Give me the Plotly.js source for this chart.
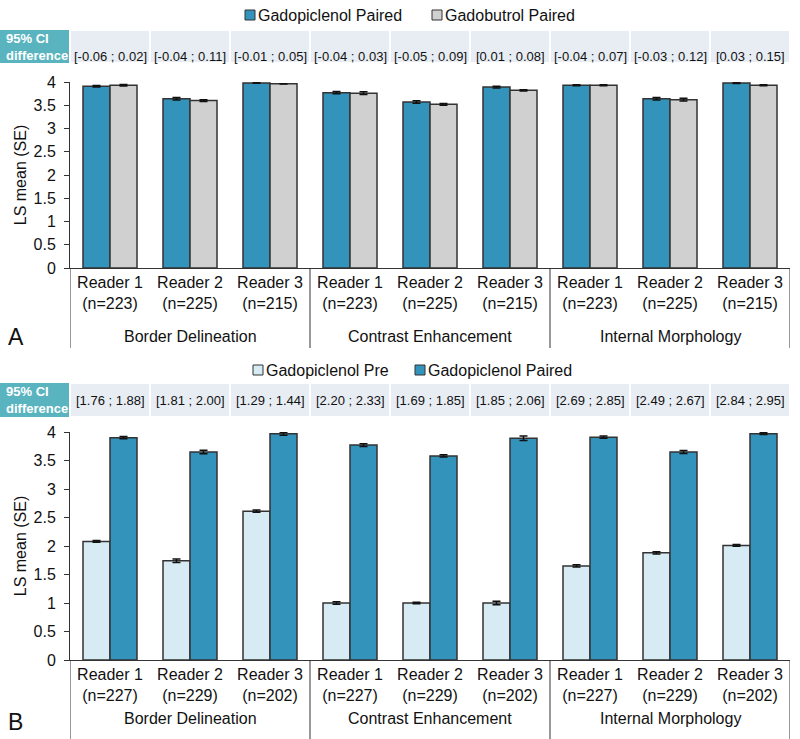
<!DOCTYPE html>
<html>
<head>
<meta charset="utf-8">
<script src="https://cdn.plot.ly/plotly-3.0.1.min.js"></script>
<style>
  html, body { margin: 0; padding: 0; background: #fff; }
  #chart-area { width: 800px; height: 739px; }
</style>
</head>
<body>
<div id="chart-area"></div>
<script>
'use strict';

// categories
const groups = ["Border Delineation", "Contrast Enhancement", "Internal Morphology"];
const readers = ["Reader 1", "Reader 2", "Reader 3"];
const n_top = ["n=223", "n=225", "n=215", "n=223", "n=225", "n=215", "n=223", "n=225", "n=215"];
const n_bottom = ["n=227", "n=229", "n=202", "n=227", "n=229", "n=202", "n=227", "n=229", "n=202"];

// panel A: gadopiclenol paired vs gadobutrol paired
const top_names = ["Gadopiclenol Paired", "Gadobutrol Paired"];
const top_gadopiclenol = [3.91, 3.64, 3.98, 3.77, 3.57, 3.89, 3.93, 3.64, 3.98];
const top_gadopiclenol_se = [0.015, 0.025, 0.008, 0.025, 0.025, 0.02, 0.01, 0.025, 0.01];
const top_gadobutrol = [3.93, 3.60, 3.96, 3.76, 3.52, 3.82, 3.93, 3.62, 3.93];
const top_gadobutrol_se = [0.015, 0.02, 0.005, 0.03, 0.02, 0.015, 0.01, 0.03, 0.01];
const top_ci = ["[-0.06 ; 0.02]", "[-0.04 ; 0.11]", "[-0.01 ; 0.05]", "[-0.04 ; 0.03]", "[-0.05 ; 0.09]",
                "[0.01 ; 0.08]", "[-0.04 ; 0.07]", "[-0.03 ; 0.12]", "[0.03 ; 0.15]"];

// panel B: gadopiclenol pre vs paired
const bottom_names = ["Gadopiclenol Pre", "Gadopiclenol Paired"];
const bottom_pre = [2.08, 1.74, 2.61, 1.00, 1.00, 1.00, 1.65, 1.88, 2.01];
const bottom_pre_se = [0.015, 0.03, 0.02, 0.02, 0.015, 0.03, 0.02, 0.02, 0.015];
const bottom_paired = [3.90, 3.65, 3.97, 3.77, 3.58, 3.89, 3.91, 3.65, 3.97];
const bottom_paired_se = [0.02, 0.03, 0.025, 0.025, 0.02, 0.04, 0.02, 0.025, 0.015];
const bottom_ci = ["[1.76 ; 1.88]", "[1.81 ; 2.00]", "[1.29 ; 1.44]", "[2.20 ; 2.33]", "[1.69 ; 1.85]",
                   "[1.85 ; 2.06]", "[2.69 ; 2.85]", "[2.49 ; 2.67]", "[2.84 ; 2.95]"];

const BLUE = "#3393ba";
const GREY = "#d0d0d0";
const LIGHT = "#d6ebf3";
const EDGE = "#333333";
const FONT = "Liberation Sans, Arial, sans-serif";
const W = 800, H = 739;

const px_y = y => 1 - y / H;
const px_x = x => x / W;

function bar_trace(name, values, se, color, xaxis, yaxis) {
    return {
        type: "bar",
        name: name,
        x: values.map((_, i) => i),
        y: values,
        xaxis: xaxis,
        yaxis: yaxis,
        marker: { color: color, line: { color: EDGE, width: 1.5 } },
        error_y: { type: "data", array: se, visible: true, color: "#111", thickness: 1.5, width: 4 },
        showlegend: false,
        hoverinfo: "y",
    };
}

function tick_text(n_list) {
    return n_list.map((n, i) => readers[i % 3] + "<br>(" + n + ")");
}

function x_axis(anchor, n_list, domain) {
    return {
        domain: domain,
        anchor: anchor,
        range: [-0.5, 8.5],
        tickvals: n_list.map((_, i) => i),
        ticktext: tick_text(n_list),
        ticks: "",
        showline: true,
        linecolor: EDGE,
        linewidth: 1,
        showgrid: false,
        zeroline: false,
        fixedrange: true,
        tickfont: { size: 16, color: "#111" },
    };
}

function y_axis(anchor, domain) {
    return {
        domain: domain,
        anchor: anchor,
        range: [0, 4],
        dtick: 0.5,
        ticks: "outside",
        ticklen: 5,
        tickcolor: EDGE,
        ticklabelstandoff: 5,
        showline: true,
        linecolor: EDGE,
        linewidth: 1,
        showgrid: false,
        zeroline: false,
        fixedrange: true,
        tickfont: { size: 16, color: "#111" },
        title: { text: "LS mean (SE)", font: { size: 16, color: "#111" }, standoff: 2 },
    };
}

// panel decorations: CI row, separators, group labels, legend
function panel_decor(shapes, annotations, opt) {
    const xref = opt.xref;
    // teal header box
    shapes.push({
        type: "rect", xref: "paper", yref: "paper",
        x0: 0, x1: px_x(69), y0: px_y(opt.ci_top), y1: px_y(opt.ci_bottom),
        fillcolor: "#59b4c0", line: { width: 0 },
    });
    annotations.push({
        xref: "paper", yref: "paper", x: px_x(4), y: px_y((opt.ci_top + opt.ci_bottom) / 2),
        xanchor: "left", yanchor: "middle", align: "left", showarrow: false,
        text: "<b>95% CI<br>difference</b>",
        font: { size: 13, color: "#fff", family: FONT },
    });
    opt.ci.forEach((t, i) => {
        shapes.push({
            type: "rect", xref: xref, yref: "paper",
            x0: i - 0.5, x1: i + 0.5, y0: px_y(opt.ci_top), y1: px_y(opt.ci_bottom),
            fillcolor: "#e8edf4", line: { color: "#fff", width: 2 },
        });
        annotations.push({
            xref: xref, yref: "paper", x: i, y: px_y((opt.ci_top + opt.ci_bottom) / 2),
            showarrow: false, text: t,
            font: { size: 13, color: "#111", family: FONT },
        });
    });
    // separators below the axis
    [-0.5, 2.5, 5.5, 8.5].forEach(x => {
        shapes.push({
            type: "line", xref: xref, yref: "paper",
            x0: x, x1: x, y0: px_y(opt.axis_y), y1: px_y(opt.sep_end),
            line: { color: EDGE, width: 1 },
        });
    });
    groups.forEach((g, k) => {
        annotations.push({
            xref: xref, yref: "paper", x: 3 * k + 1, y: px_y(opt.group_y),
            showarrow: false, text: g,
            font: { size: 16, color: "#111", family: FONT },
        });
    });
    // legend
    opt.legend.forEach(item => {
        shapes.push({
            type: "rect", xref: "paper", yref: "paper",
            x0: px_x(item.sx), x1: px_x(item.sx + 10),
            y0: px_y(opt.legend_y - 5), y1: px_y(opt.legend_y + 5),
            fillcolor: item.color, line: { color: EDGE, width: 1 },
        });
        annotations.push({
            xref: "paper", yref: "paper", x: px_x(item.sx + 11), y: px_y(opt.legend_y),
            xanchor: "left", yanchor: "middle", showarrow: false, text: item.name,
            font: { size: 16, color: "#111", family: FONT },
        });
    });
    annotations.push({
        xref: "paper", yref: "paper", x: px_x(6), y: px_y(opt.letter_y),
        xanchor: "left", yanchor: "middle", showarrow: false, text: opt.letter,
        font: { size: 23, color: "#111", family: FONT },
    });
}

function render() {
    const data = [
        bar_trace(top_names[0], top_gadopiclenol, top_gadopiclenol_se, BLUE, "x", "y"),
        bar_trace(top_names[1], top_gadobutrol, top_gadobutrol_se, GREY, "x", "y"),
        bar_trace(bottom_names[0], bottom_pre, bottom_pre_se, LIGHT, "x2", "y2"),
        bar_trace(bottom_names[1], bottom_paired, bottom_paired_se, BLUE, "x2", "y2"),
    ];

    let shapes = [];
    let annotations = [];
    panel_decor(shapes, annotations, {
        xref: "x", ci: top_ci, ci_top: 30, ci_bottom: 63,
        axis_y: 268, sep_end: 348, group_y: 337,
        legend_y: 15, letter: "A", letter_y: 337,
        legend: [
            { name: top_names[0], color: BLUE, sx: 245 },
            { name: top_names[1], color: GREY, sx: 432 },
        ],
    });
    panel_decor(shapes, annotations, {
        xref: "x2", ci: bottom_ci, ci_top: 383, ci_bottom: 417,
        axis_y: 660, sep_end: 739, group_y: 729,
        legend_y: 370, letter: "B", letter_y: 722,
        legend: [
            { name: bottom_names[0], color: LIGHT, sx: 253 },
            { name: bottom_names[1], color: BLUE, sx: 415 },
        ],
    });

    const x_domain = [px_x(70), px_x(790)];
    const layout = {
        width: W,
        height: H,
        margin: { l: 0, r: 0, t: 0, b: 0 },
        paper_bgcolor: "#fff",
        plot_bgcolor: "#fff",
        font: { family: FONT, color: "#111" },
        barmode: "group",
        bargap: 0.325,
        bargroupgap: 0,
        showlegend: false,
        xaxis: x_axis("y", n_top, x_domain),
        yaxis: y_axis("x", [px_y(268), px_y(82)]),
        xaxis2: x_axis("y2", n_bottom, x_domain),
        yaxis2: y_axis("x2", [px_y(660), px_y(432)]),
        shapes: shapes,
        annotations: annotations,
    };
    Plotly.newPlot("chart-area", data, layout, { displayModeBar: false, staticPlot: true });
}

render();
</script>
</body>
</html>
